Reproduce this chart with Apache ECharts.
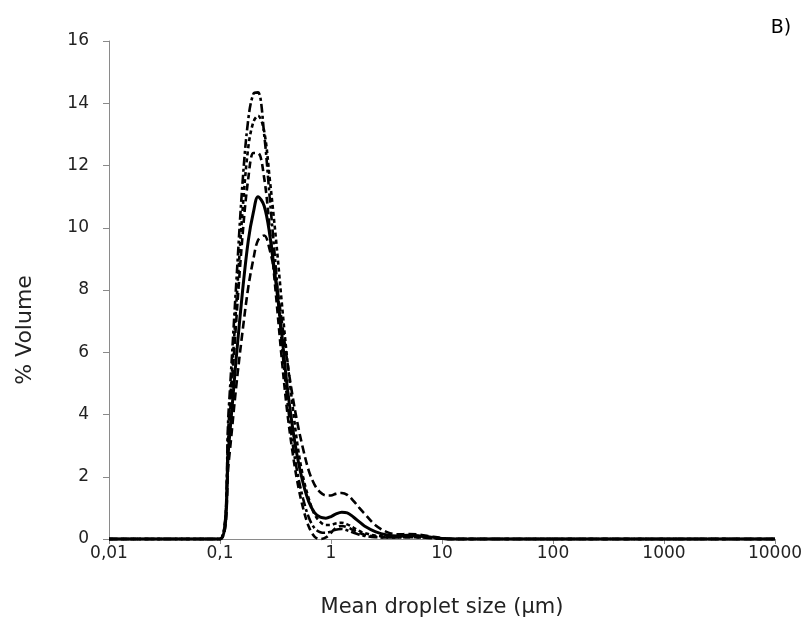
<!DOCTYPE html>
<html>
<head>
<meta charset="utf-8">
<script src="https://cdn.jsdelivr.net/npm/echarts@6/dist/echarts.min.js"></script>
<style>
  html, body { margin: 0; padding: 0; background: #fff; }
  #chart { width: 809px; height: 634px; }
</style>
</head>
<body>
<div id="chart"></div>
<script>
// Droplet size classes (µm)
var sizes = [0.01, 0.1, 0.12, 0.14, 0.16, 0.18, 0.2, 0.22, 0.25, 0.28, 0.32, 0.36, 0.4, 0.45, 0.5, 0.56, 0.63, 0.71, 0.8, 0.9, 1.0, 1.1, 1.25, 1.4, 1.6, 1.8, 2.0, 2.5, 3.2, 4, 5, 6.3, 8, 10, 12.5, 10000];

// % Volume series
var solidSeries = [0, 0, 3.0, 5.8, 8.0, 9.6, 10.5, 11.0, 10.7, 9.8, 8.2, 6.6, 5.0, 3.6, 2.6, 1.8, 1.2, 0.85, 0.7, 0.67, 0.72, 0.8, 0.86, 0.84, 0.7, 0.55, 0.42, 0.24, 0.13, 0.1, 0.12, 0.1, 0.06, 0.02, 0, 0];
var longDashSeries = [0, 0, 2.5, 4.9, 6.7, 8.1, 9.0, 9.6, 9.75, 9.3, 8.3, 7.0, 5.8, 4.6, 3.7, 2.9, 2.2, 1.75, 1.5, 1.4, 1.4, 1.45, 1.48, 1.42, 1.22, 1.0, 0.82, 0.45, 0.22, 0.15, 0.16, 0.14, 0.08, 0.03, 0, 0];
var dashDotSeries = [0, 0, 4.2, 8.2, 11.5, 13.5, 14.3, 14.35, 13.0, 11.0, 8.6, 6.3, 4.6, 3.1, 2.1, 1.3, 0.7, 0.35, 0.22, 0.2, 0.24, 0.3, 0.32, 0.28, 0.2, 0.14, 0.1, 0.06, 0.05, 0.05, 0.06, 0.05, 0.03, 0.01, 0, 0];
var shortDashSeries = [0, 0, 3.8, 7.5, 10.6, 12.6, 13.4, 13.6, 13.1, 11.6, 9.6, 7.6, 5.9, 4.3, 3.0, 2.0, 1.3, 0.8, 0.55, 0.45, 0.45, 0.5, 0.52, 0.47, 0.36, 0.26, 0.19, 0.11, 0.08, 0.08, 0.1, 0.09, 0.05, 0.02, 0, 0];
var dashSeries = [0, 0, 3.5, 7.0, 9.8, 11.6, 12.4, 12.4, 11.6, 10.0, 7.8, 5.8, 4.2, 2.8, 1.8, 1.0, 0.4, 0.08, 0.0, 0.05, 0.2, 0.35, 0.42, 0.38, 0.28, 0.2, 0.14, 0.08, 0.05, 0.05, 0.06, 0.05, 0.03, 0.01, 0, 0];

var xTickLabels = ['0,01', '0,1', '1', '10', '100', '1000', '10000'];
var yTickLabels = ['0', '2', '4', '6', '8', '10', '12', '14', '16'];

var xAxisTitle = 'Mean droplet size (µm)';
var yAxisTitle = '% Volume';
var panelLabel = 'B)';

function pairs(ys) {
  return sizes.map(function (x, i) { return [x, ys[i]]; });
}

var FONT = 'DejaVu Sans';
var chart = echarts.init(document.getElementById('chart'), null, { renderer: 'canvas' });

function lineSeries(name, ys, type, z, w) {
  return {
    name: name,
    type: 'line',
    data: pairs(ys),
    smooth: 0.35,
    showSymbol: false,
    symbol: 'none',
    clip: false,
    z: z,
    lineStyle: { color: '#000', width: w, type: type, cap: 'butt' }
  };
}

chart.setOption({
  animation: false,
  backgroundColor: '#fff',
  grid: { left: 109, right: 34, top: 41, bottom: 95, containLabel: false },
  xAxis: {
    type: 'log',
    logBase: 10,
    min: 0.01,
    max: 10000,
    interval: 1,
    z: 0,
    name: xAxisTitle,
    nameLocation: 'middle',
    nameGap: 58,
    nameTextStyle: { fontFamily: FONT, fontSize: 21, color: '#222' },
    axisLine: { show: true, lineStyle: { color: '#8a8a8a', width: 1 } },
    axisTick: { show: true, length: 5, lineStyle: { color: '#8a8a8a' } },
    splitLine: { show: false },
    axisLabel: {
      margin: 6,
      fontFamily: FONT,
      fontSize: 17,
      color: '#222',
      formatter: function (v) {
        var idx = Math.round(Math.log10(v)) + 2;
        return xTickLabels[idx] !== undefined ? xTickLabels[idx] : '';
      }
    }
  },
  yAxis: {
    type: 'value',
    min: 0,
    max: 16,
    interval: 2,
    z: 0,
    axisLine: { show: true, lineStyle: { color: '#8a8a8a', width: 1 } },
    axisTick: { show: true, length: 6, lineStyle: { color: '#8a8a8a' } },
    splitLine: { show: false },
    axisLabel: {
      margin: 20,
      fontFamily: FONT,
      fontSize: 17,
      color: '#222',
      formatter: function (v) { return yTickLabels[Math.round(v / 2)]; }
    }
  },
  graphic: [
    {
      type: 'text',
      x: 25,
      y: 330,
      rotation: Math.PI / 2,
      style: {
        text: yAxisTitle,
        fontFamily: FONT,
        fontSize: 22,
        fill: '#222',
        align: 'center',
        verticalAlign: 'middle'
      }
    },
    {
      type: 'text',
      x: 781,
      y: 28,
      style: {
        text: panelLabel,
        fontFamily: FONT,
        fontSize: 19,
        fill: '#000',
        align: 'center',
        verticalAlign: 'middle'
      }
    }
  ],
  series: [
    lineSeries('A', dashDotSeries, [9, 3, 3, 3], 10, 2.6),
    lineSeries('B', shortDashSeries, [4, 3], 10, 2.6),
    lineSeries('C', dashSeries, [7, 4], 10, 2.6),
    lineSeries('D', longDashSeries, [8, 4], 10, 2.6),
    lineSeries('E', solidSeries, 'solid', 12, 3)
  ]
});
</script>
</body>
</html>
